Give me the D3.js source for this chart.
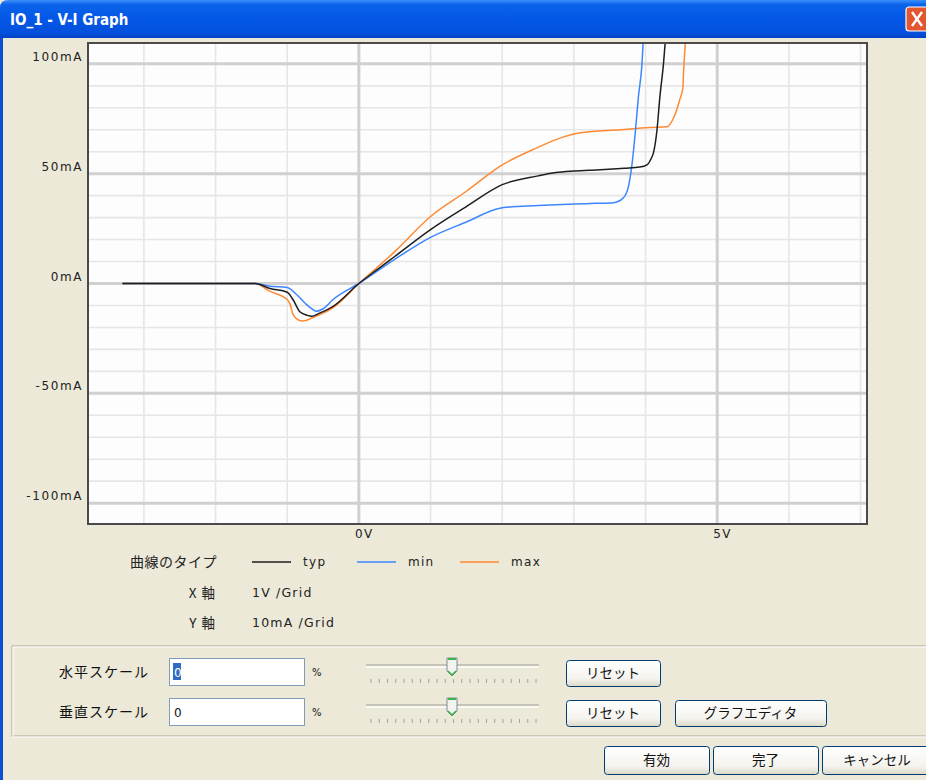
<!DOCTYPE html>
<html lang="ja">
<head>
<meta charset="UTF-8">
<title>IO_1 - V-I Graph</title>
<script src="https://d3js.org/d3.v7.min.js"></script>
<style>
  html, body { margin: 0; padding: 0; background: #ece9d8; }
  svg { display: block; }
</style>
</head>
<body>
<div id="chart"></div>
<script>
// ---- data ----
const typV = [-3.3, -1.45, -1.24, -1.0, -0.92, -0.82, -0.72, -0.66, -0.55, -0.36, 0, 0.25, 0.5, 1.0, 1.5, 2.0, 2.5, 2.75, 3.0, 3.37, 3.7, 3.92, 4.02, 4.08, 4.11, 4.16, 4.2, 4.25, 4.28];
const typI = [0, 0, -2.3, -4, -7.3, -13, -14.5, -14.9, -13.5, -10.4, 0, 6.2, 12.3, 24.5, 35, 45, 49, 50.5, 51.2, 51.8, 52.5, 53, 54, 57, 59.5, 70, 85, 100, 112];

const minV = [-3.3, -1.45, -1.24, -1.0, -0.87, -0.75, -0.68, -0.59, -0.5, -0.36, 0, 0.5, 1.0, 1.5, 2.0, 2.5, 3.0, 3.3, 3.55, 3.69, 3.76, 3.81, 3.86, 3.9, 3.95, 3.97];
const minI = [0, 0, -1.2, -1.8, -5, -9, -11, -12.6, -11.5, -7.3, 0, 11, 21, 28, 34.5, 35.5, 36.2, 36.5, 36.8, 39, 44, 54, 70, 85, 100, 112];

const maxV = [-3.3, -1.45, -1.24, -1.0, -0.96, -0.92, -0.85, -0.78, -0.64, -0.36, 0, 0.5, 1.0, 1.5, 2.0, 2.5, 2.75, 3.09, 3.65, 4.06, 4.3, 4.4, 4.48, 4.52, 4.53, 4.56];
const maxI = [0, 0, -3.6, -7.3, -9.5, -14, -16.5, -17.1, -15.5, -11, 0, 14.5, 30.5, 42, 54, 62, 65.5, 68.6, 70, 71, 71.4, 76, 84, 89, 96, 112];

const xTickVals = [0, 5];
const xTickLabels = ["0V", "5V"];
const yTickVals = [100, 50, 0, -50, -100];
const yTickLabels = ["100mA", "50mA", "0mA", "-50mA", "-100mA"];

const seriesNames = ["typ", "min", "max"];
const seriesColors = ["#1e1e1e", "#3c87ff", "#ff8a33"];

// ---- setup ----
const W = 926, H = 780;
const plot = { left: 88, right: 867, top: 43, bottom: 524 };

const svg = d3.select("#chart").append("svg")
    .attr("width", W).attr("height", H);

const defs = svg.append("defs");
const tg = defs.append("linearGradient").attr("id", "titleGrad")
    .attr("x1", 0).attr("y1", 0).attr("x2", 0).attr("y2", 1);
[["0%", "#3d8ff8"], ["12%", "#0a63ea"], ["50%", "#0457e6"], ["88%", "#0350dc"], ["100%", "#0242c4"]]
    .forEach(s => tg.append("stop").attr("offset", s[0]).attr("stop-color", s[1]));
const bg = defs.append("linearGradient").attr("id", "btnGrad")
    .attr("x1", 0).attr("y1", 0).attr("x2", 0).attr("y2", 1);
[["0%", "#ffffff"], ["70%", "#f4f3ee"], ["100%", "#dcd8c8"]]
    .forEach(s => bg.append("stop").attr("offset", s[0]).attr("stop-color", s[1]));
defs.append("clipPath").attr("id", "plotClip").append("rect")
    .attr("x", plot.left).attr("y", plot.top)
    .attr("width", plot.right - plot.left).attr("height", plot.bottom - plot.top);

// window body
svg.append("rect").attr("width", W).attr("height", H).attr("fill", "#ece9d8");
svg.append("rect").attr("x", 0).attr("y", 30).attr("width", 3).attr("height", H - 30).attr("fill", "#0a4fd6");

// title bar
svg.append("path")
    .attr("d", `M0,38 L0,8 Q0,0 8,0 L${W},0 L${W},38 Z`)
    .attr("fill", "url(#titleGrad)");
svg.append("text").attr("x", 10).attr("y", 25)
    .attr("font-family", "Liberation Sans Narrow, DejaVu Sans Condensed, Liberation Sans, sans-serif")
    .attr("font-weight", "bold").attr("font-size", 15).attr("fill", "#fff")
    .text("IO_1 - V-I Graph");
svg.append("rect").attr("x", 906).attr("y", 7).attr("width", 28).attr("height", 24).attr("rx", 3)
    .attr("fill", "#e2572f").attr("stroke", "#fff").attr("stroke-width", 1.2);
svg.append("path").attr("d", "M912,12 L922,26 M922,12 L912,26")
    .attr("stroke", "#fff").attr("stroke-width", 2.4);

// ---- chart ----
const x = d3.scaleLinear().domain([-3.78, 7.09]).range([plot.left, plot.right]);
const y = d3.scaleLinear().domain([-109.5, 109.5]).range([plot.bottom, plot.top]);

svg.append("rect")
    .attr("x", plot.left).attr("y", plot.top)
    .attr("width", plot.right - plot.left).attr("height", plot.bottom - plot.top)
    .attr("fill", "#fdfdfd");

const grid = svg.append("g").attr("clip-path", "url(#plotClip)");
const minorV = d3.range(-3, 8).filter(v => !xTickVals.includes(v));
const minorI = d3.range(-100, 101, 10).filter(v => v % 50 !== 0);

grid.selectAll(".mv").data(minorV).join("line")
    .attr("x1", d => x(d)).attr("x2", d => x(d))
    .attr("y1", plot.top).attr("y2", plot.bottom)
    .attr("stroke", "#e6e6e6").attr("stroke-width", 1.6);
grid.selectAll(".mi").data(minorI).join("line")
    .attr("x1", plot.left).attr("x2", plot.right)
    .attr("y1", d => y(d)).attr("y2", d => y(d))
    .attr("stroke", "#e6e6e6").attr("stroke-width", 1.6);
grid.selectAll(".Mv").data(xTickVals).join("line")
    .attr("x1", d => x(d)).attr("x2", d => x(d))
    .attr("y1", plot.top).attr("y2", plot.bottom)
    .attr("stroke", "#d0d0d0").attr("stroke-width", 3);
grid.selectAll(".Mi").data(yTickVals).join("line")
    .attr("x1", plot.left).attr("x2", plot.right)
    .attr("y1", d => y(d)).attr("y2", d => y(d))
    .attr("stroke", "#d0d0d0").attr("stroke-width", 3);

// curves
const series = [
    { v: typV, i: typI },
    { v: minV, i: minI },
    { v: maxV, i: maxI }
];
const line = d3.line()
    .x(d => x(d[0]))
    .y(d => y(d[1]))
    .curve(d3.curveMonotoneX);

// draw max, min, then typ on top
const curves = svg.append("g").attr("clip-path", "url(#plotClip)");
[2, 1, 0].forEach(k => {
    const pts = series[k].v.map((v, j) => [v, series[k].i[j]]);
    curves.append("path")
        .attr("d", line(pts))
        .attr("fill", "none")
        .attr("stroke", seriesColors[k])
        .attr("stroke-width", 1.5);
});

// frame
svg.append("rect")
    .attr("x", plot.left).attr("y", plot.top)
    .attr("width", plot.right - plot.left).attr("height", plot.bottom - plot.top)
    .attr("fill", "none").attr("stroke", "#4a4a4a").attr("stroke-width", 2);

const latin = "DejaVu Sans, Liberation Sans, sans-serif";
const cjk = "Noto Sans CJK JP, sans-serif";

// axis labels
svg.selectAll(".ylab").data(yTickVals).join("text")
    .attr("x", 83).attr("y", d => y(d) - 3)
    .attr("text-anchor", "end")
    .attr("font-family", latin).attr("font-size", 12)
    .attr("letter-spacing", 1.6).attr("fill", "#222")
    .text((d, j) => yTickLabels[j]);
svg.selectAll(".xlab").data(xTickVals).join("text")
    .attr("x", d => x(d) - 4).attr("y", 538)
    .attr("font-family", latin).attr("font-size", 12)
    .attr("letter-spacing", 1.5).attr("fill", "#222")
    .text((d, j) => xTickLabels[j]);

// legend / info
svg.append("text").attr("x", 217).attr("y", 567).attr("text-anchor", "end")
    .attr("font-family", cjk).attr("font-size", 14).attr("letter-spacing", 0.5).attr("fill", "#222")
    .text("曲線のタイプ");
const legX = [252, 357, 460];
seriesNames.forEach((n, k) => {
    svg.append("line").attr("x1", legX[k]).attr("x2", legX[k] + 39)
        .attr("y1", 562).attr("y2", 562)
        .attr("stroke", seriesColors[k]).attr("stroke-width", 1.3);
    svg.append("text").attr("x", legX[k] + 51).attr("y", 566)
        .attr("font-family", latin).attr("font-size", 12).attr("letter-spacing", 1.3).attr("fill", "#222")
        .text(n);
});
[["X 軸", "1V /Grid", 598], ["Y 軸", "10mA /Grid", 628]].forEach(r => {
    svg.append("text").attr("x", 216).attr("y", r[2]).attr("text-anchor", "end")
        .attr("font-family", cjk).attr("font-size", 13.5).attr("letter-spacing", 1).attr("fill", "#222")
        .text(r[0]);
    svg.append("text").attr("x", 252).attr("y", r[2] - 1)
        .attr("font-family", latin).attr("font-size", 12.5).attr("letter-spacing", 1.2).attr("fill", "#222")
        .text(r[1]);
});

// ---- control panel ----
svg.append("rect").attr("x", 12).attr("y", 646).attr("width", 930).attr("height", 90)
    .attr("fill", "none").attr("stroke", "#aca899").attr("stroke-width", 1);
svg.append("rect").attr("x", 13).attr("y", 647).attr("width", 930).attr("height", 90)
    .attr("fill", "none").attr("stroke", "#ffffff").attr("stroke-width", 1);

function button(x0, y0, w, h, label) {
    svg.append("rect").attr("x", x0 + 0.5).attr("y", y0 + 0.5).attr("width", w).attr("height", h)
        .attr("rx", 3).attr("fill", "url(#btnGrad)").attr("stroke", "#003c74").attr("stroke-width", 1);
    svg.append("text").attr("x", x0 + w / 2).attr("y", y0 + h / 2 + 5).attr("text-anchor", "middle")
        .attr("font-family", cjk).attr("font-size", 13.5).attr("fill", "#111")
        .text(label);
}

function slider(x0, yc) {
    svg.append("line").attr("x1", x0).attr("x2", x0 + 173).attr("y1", yc).attr("y2", yc)
        .attr("stroke", "#9d9d92").attr("stroke-width", 1);
    svg.append("line").attr("x1", x0).attr("x2", x0 + 173).attr("y1", yc + 2).attr("y2", yc + 2)
        .attr("stroke", "#ffffff").attr("stroke-width", 1.5);
    d3.range(21).forEach(t => {
        const tx = x0 + 5 + t * 8.25;
        svg.append("line").attr("x1", tx).attr("x2", tx).attr("y1", yc + 14).attr("y2", yc + 18)
            .attr("stroke", "#a0a0a0").attr("stroke-width", 1);
    });
    const tx = x0 + 86;
    svg.append("path")
        .attr("d", `M${tx - 5},${yc - 7} L${tx + 5},${yc - 7} L${tx + 5},${yc + 6} L${tx},${yc + 11} L${tx - 5},${yc + 6} Z`)
        .attr("fill", "#f4f3ee").attr("stroke", "#7a8a99").attr("stroke-width", 1);
    svg.append("line").attr("x1", tx - 4).attr("x2", tx + 4).attr("y1", yc - 6).attr("y2", yc - 6)
        .attr("stroke", "#3ab34a").attr("stroke-width", 2);
    svg.append("path").attr("d", `M${tx - 4},${yc + 6} L${tx},${yc + 10} L${tx + 4},${yc + 6}`)
        .attr("fill", "none").attr("stroke", "#3ab34a").attr("stroke-width", 1.5);
}

const rows = [
    { label: "水平スケール", y0: 658, selected: true },
    { label: "垂直スケール", y0: 698, selected: false }
];
rows.forEach((r, k) => {
    svg.append("text").attr("x", 59).attr("y", r.y0 + 19)
        .attr("font-family", cjk).attr("font-size", 14).attr("letter-spacing", 1).attr("fill", "#111")
        .text(r.label);
    svg.append("rect").attr("x", 169.5).attr("y", r.y0 + 0.5).attr("width", 135).attr("height", 27)
        .attr("fill", "#fff").attr("stroke", "#7f9db9");
    if (r.selected) {
        svg.append("rect").attr("x", 173).attr("y", r.y0 + 5).attr("width", 8).attr("height", 17).attr("fill", "#316ac5");
    }
    svg.append("text").attr("x", 174).attr("y", r.y0 + 19)
        .attr("font-family", latin).attr("font-size", 12)
        .attr("fill", r.selected ? "#fff" : "#111").text("0");
    svg.append("text").attr("x", 312).attr("y", r.y0 + 18)
        .attr("font-family", latin).attr("font-size", 10).attr("fill", "#111").text("%");
    slider(366, r.y0 + 7);
    button(566, r.y0 + 2, 94, 26, "リセット");
});
button(675, 700, 151, 26, "グラフエディタ");

button(604, 746, 105, 28, "有効");
button(713, 746, 105, 28, "完了");
button(822, 746, 110, 28, "キャンセル");
</script>
</body>
</html>
